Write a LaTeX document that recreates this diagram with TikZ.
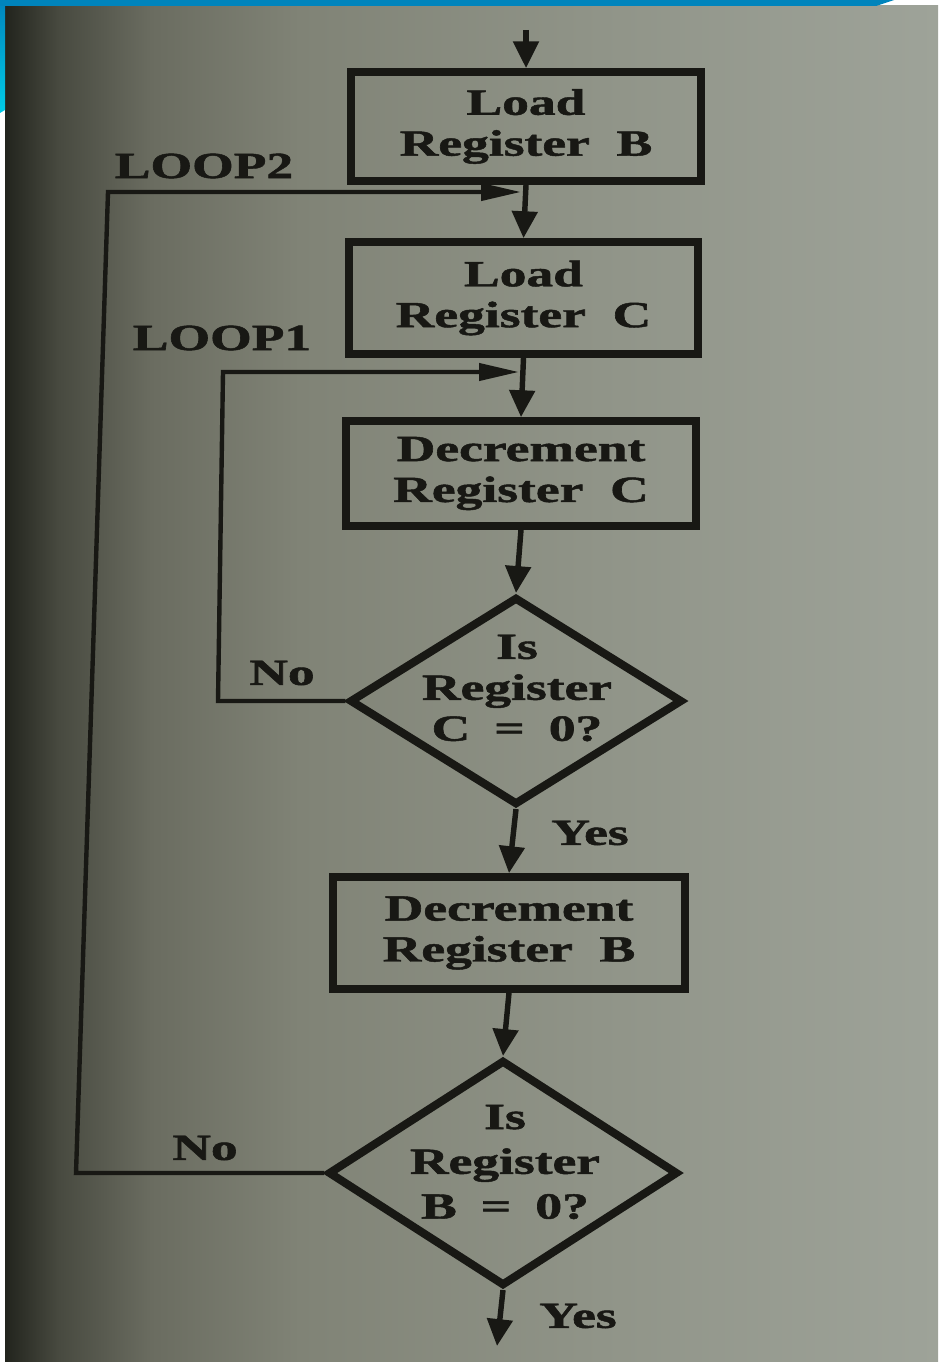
\documentclass[tikz,border=0pt]{standalone}
\usepackage{fontspec}
\setmainfont{Liberation Serif}
\newfontfamily\heavyserif{Liberation Serif}[BoldFeatures={FakeBold=1.2}]
\usepackage{graphicx}
\usetikzlibrary{arrows.meta,shapes.geometric}

\definecolor{ink}{RGB}{24,24,20}
\definecolor{bgA}{RGB}{34,36,29}
\definecolor{bgB}{RGB}{72,74,64}
\definecolor{bgC}{RGB}{106,108,96}
\definecolor{bgD}{RGB}{128,131,118}
\definecolor{bgE}{RGB}{144,148,136}
\definecolor{bgF}{RGB}{158,163,153}
\definecolor{blueA}{RGB}{0,132,188}
\definecolor{blueB}{RGB}{0,204,232}

% paper tone: dark at the left edge, lighter towards the right
\pgfdeclarehorizontalshading{paper}{100bp}{color(0bp)=(bgA); color(25bp)=(bgA);
  color(27.9bp)=(bgB); color(32.8bp)=(bgC); color(40.8bp)=(bgD);
  color(56.9bp)=(bgE); color(75bp)=(bgF); color(100bp)=(bgF)}

\newcommand\flowfont{\heavyserif\fontsize{21pt}{23.3pt}\selectfont\bfseries}
\newcommand\flowtxt[1]{\scalebox{1.45}[1]{#1}}

\begin{document}
\begin{tikzpicture}[x=0.02cm,y=-0.02cm,
  proc/.style={draw=ink,line width=4.4pt,rectangle,inner sep=0pt,text=ink,
    align=center,font=\flowfont},
  decis/.style={draw=ink,line width=4.6pt,diamond,inner sep=0pt},
  dtext/.style={text=ink,align=center,font=\flowfont,inner sep=0pt},
  tag/.style={text=ink,font=\flowfont,inner sep=0pt},
  conn/.style={draw=ink,line width=3.1pt,-{Triangle[length=15.3pt,width=14.2pt]}},
  back/.style={draw=ink,line width=2.5pt,line join=miter,
    -{Triangle[length=22.7pt,width=9.6pt]}},
]
\useasboundingbox (0,0) rectangle (938,1362);

% page and frame
\fill[white] (0,0) rectangle (938,1362);
\shade[shading=paper] (5,6) rectangle (938,1362);
\shade[top color=blueA,bottom color=blueB] (0,0) -- (5,0) -- (5,110) -- (0,113) -- cycle;
\fill[blueA] (0,0) -- (894,0) -- (876,6) -- (0,6) -- cycle;

% process boxes
\node[proc,minimum width=7.0cm,minimum height=2.18cm] (b1) at (526,126.5)
  {\flowtxt{Load}\\\flowtxt{Register\ \ B}};
\node[proc,minimum width=6.98cm,minimum height=2.24cm] (b2) at (523.5,298)
  {\flowtxt{Load}\\\flowtxt{Register\ \ C}};
\node[proc,minimum width=7.0cm,minimum height=2.1cm] (b3) at (521,473.5)
  {\flowtxt{Decrement}\\\flowtxt{Register\ \ C}};
\node[proc,minimum width=7.04cm,minimum height=2.24cm] (b4) at (509,933)
  {\flowtxt{Decrement}\\\flowtxt{Register\ \ B}};

% decisions
\node[decis,minimum width=6.66cm,minimum height=4.16cm] (d1) at (516,701) {};
\node[dtext] (t1) at (517,688)
  {\flowtxt{Is}\\\flowtxt{Register}\\\flowtxt{C\hspace{0.45em}=\hspace{0.45em}0?}};
\node[decis,minimum width=7.0cm,minimum height=4.52cm] (d2) at (503,1173) {};
\node[dtext,font=\heavyserif\fontsize{21pt}{25.5pt}\selectfont\bfseries] (t2) at (505,1162)
  {\flowtxt{Is}\\\flowtxt{Register}\\\flowtxt{B\hspace{0.45em}=\hspace{0.45em}0?}};

% labels
\node[tag] (lp2) at (204,166) {\flowtxt{LOOP2}};
\node[tag] (lp1) at (222,338) {\flowtxt{LOOP1}};
\node[tag] (no1) at (282,673) {\flowtxt{No}};
\node[tag] (yes1) at (590,833) {\flowtxt{Yes}};
\node[tag] (no2) at (205,1148) {\flowtxt{No}};
\node[tag] (yes2) at (578,1316) {\flowtxt{Yes}};

% main flow
\coordinate (in) at (526,30);
\coordinate (out) at (497,1346);
\draw[conn] (in) -- (b1.north);
\draw[conn] (b1.south) -- (b2.north);
\draw[conn] (b2.south) -- (b3.north);
\draw[conn] (b3.south) -- (d1.north);
\draw[conn] (d1.south) -- (b4.north);
\draw[conn] (b4.south) -- (d2.north);
\draw[conn] (d2.south) -- (out);

% inner loop (register C)
\coordinate (c1a) at (218,701);
\coordinate (c1b) at (223,372);
\coordinate (m1) at (519,372);
\draw[back] (d1.west) -- (c1a) -- (c1b) -- (m1);

% outer loop (register B)
\coordinate (c2a) at (76,1173);
\coordinate (c2b) at (108,192);
\coordinate (m2) at (521,192);
\draw[back] (d2.west) -- (c2a) -- (c2b) -- (m2);
\end{tikzpicture}
\end{document}
